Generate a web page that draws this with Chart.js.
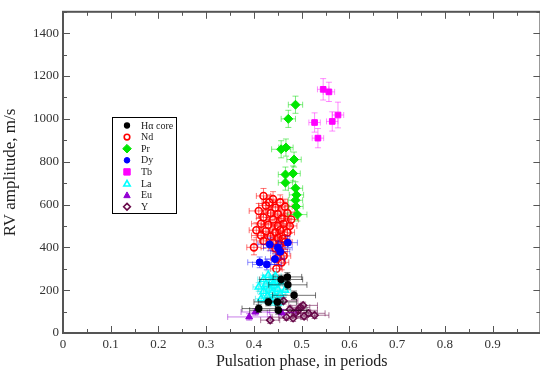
<!DOCTYPE html>
<html>
<head>
<meta charset="utf-8">
<script src="https://cdn.jsdelivr.net/npm/chart.js@4.4.1/dist/chart.umd.min.js"></script>
<style>
  html, body { margin: 0; padding: 0; background: #fff; overflow: hidden; }
  #wrap { width: 546px; height: 373px; }
</style>
</head>
<body>
<div id="wrap"><canvas id="chart-rv" width="546" height="373"></canvas></div>
<script>
'use strict';

// [phase, amplitude, phase error, amplitude error]
const haCore = [
    [0.457, 250, 0.045, 20], [0.471, 225, 0.040, 20], [0.484, 176, 0.045, 20],
    [0.449, 145, 0.040, 18], [0.430, 145, 0.030, 18], [0.410, 114, 0.035, 18],
    [0.451, 106, 0.060, 18], [0.470, 262, 0.030, 20]
];
const ndPoints = [
    [0.420, 640, 0.015, 35], [0.440, 625, 0.020, 35], [0.455, 610, 0.015, 35], [0.432, 610, 0.015, 35],
    [0.425, 595, 0.015, 35], [0.445, 585, 0.020, 35], [0.465, 590, 0.015, 35], [0.410, 570, 0.020, 35],
    [0.435, 560, 0.015, 35], [0.450, 555, 0.015, 35], [0.470, 560, 0.015, 35], [0.420, 540, 0.015, 35],
    [0.440, 530, 0.015, 35], [0.458, 535, 0.015, 35], [0.478, 530, 0.015, 35], [0.415, 510, 0.020, 35],
    [0.430, 505, 0.015, 35], [0.450, 500, 0.015, 35], [0.462, 510, 0.015, 35], [0.475, 500, 0.015, 35],
    [0.405, 480, 0.015, 35], [0.425, 475, 0.015, 35], [0.445, 470, 0.015, 35], [0.455, 480, 0.015, 35],
    [0.470, 470, 0.015, 35], [0.415, 455, 0.020, 35], [0.435, 450, 0.015, 35], [0.450, 445, 0.015, 35],
    [0.460, 440, 0.015, 35], [0.420, 430, 0.015, 35], [0.440, 420, 0.015, 35], [0.455, 415, 0.015, 35],
    [0.465, 425, 0.015, 35], [0.400, 400, 0.015, 35], [0.445, 395, 0.015, 35], [0.455, 380, 0.015, 35],
    [0.462, 360, 0.015, 35], [0.450, 350, 0.015, 35], [0.458, 330, 0.015, 35], [0.447, 300, 0.012, 30]
];
const prPoints = [
    [0.487, 1066, 0.015, 40], [0.472, 1000, 0.015, 40], [0.457, 858, 0.020, 40], [0.467, 866, 0.015, 40],
    [0.484, 810, 0.015, 35], [0.466, 740, 0.015, 35], [0.482, 745, 0.015, 35], [0.466, 702, 0.015, 35],
    [0.487, 676, 0.015, 30], [0.489, 645, 0.015, 30], [0.487, 620, 0.015, 30], [0.488, 591, 0.015, 30],
    [0.491, 553, 0.020, 30]
];
const dyPoints = [
    [0.433, 414, 0.025, 30], [0.450, 399, 0.030, 30], [0.471, 422, 0.020, 30], [0.412, 330, 0.025, 25],
    [0.427, 320, 0.030, 25], [0.444, 345, 0.020, 25], [0.455, 380, 0.020, 30]
];
const tbPoints = [
    [0.545, 1138, 0.012, 50], [0.557, 1126, 0.012, 45], [0.576, 1018, 0.012, 60],
    [0.564, 988, 0.012, 45], [0.527, 983, 0.012, 45], [0.534, 910, 0.012, 45]
];
const laPoints = [
    [0.430, 270, 0.012, 20], [0.445, 265, 0.012, 20], [0.420, 250, 0.012, 20], [0.438, 245, 0.012, 20],
    [0.455, 240, 0.012, 20], [0.425, 228, 0.012, 20], [0.442, 222, 0.012, 20], [0.410, 215, 0.012, 20],
    [0.432, 210, 0.012, 20], [0.450, 205, 0.012, 20], [0.465, 200, 0.012, 20], [0.420, 195, 0.012, 20],
    [0.438, 188, 0.012, 20], [0.455, 180, 0.012, 20], [0.428, 172, 0.012, 20], [0.445, 165, 0.012, 20],
    [0.415, 160, 0.012, 20], [0.435, 150, 0.012, 20], [0.450, 140, 0.012, 20], [0.440, 230, 0.012, 20]
];
const euPoints = [
    [0.390, 75, 0.045, 15], [0.403, 98, 0.030, 15], [0.458, 95, 0.030, 15]
];
const yPoints = [
    [0.434, 60, 0.020, 15], [0.462, 150, 0.030, 15], [0.468, 74, 0.030, 15], [0.482, 69, 0.030, 15],
    [0.493, 106, 0.040, 15], [0.503, 129, 0.030, 15], [0.514, 92, 0.035, 15], [0.527, 83, 0.030, 15],
    [0.497, 120, 0.020, 15], [0.488, 95, 0.030, 20], [0.505, 78, 0.025, 15], [0.475, 110, 0.030, 15]
];

const xTickValues = [0, 0.1, 0.2, 0.3, 0.4, 0.5, 0.6, 0.7, 0.8, 0.9];
const yTickValues = [0, 200, 400, 600, 800, 1000, 1200, 1400];

const serif = "'Liberation Serif', 'DejaVu Serif', serif";

function toData(rows) {
    return rows.map(r => ({ x: r[0], y: r[1], dx: r[2], dy: r[3] }));
}

function series(label, rows, style) {
    return Object.assign({
        label: label,
        data: toData(rows),
        showLine: false,
        borderWidth: 1.5,
        pointHoverRadius: 4
    }, style);
}

const datasets = [
    series('H\u03b1 core', haCore, { pointStyle: 'circle', pointRadius: 3, backgroundColor: '#000', borderColor: '#000', barColor: 'rgba(0,0,0,0.55)', order: 0 }),
    series('Nd', ndPoints, { pointStyle: 'circle', pointRadius: 3.5, backgroundColor: 'rgba(0,0,0,0)', borderColor: '#ff0000', borderWidth: 1.6, barColor: 'rgba(255,0,0,0.55)', order: 7 }),
    series('Pr', prPoints, { pointStyle: 'rectRot', pointRadius: 4.5, backgroundColor: '#00e600', borderColor: '#00e600', borderWidth: 1, barColor: 'rgba(0,220,0,0.5)', order: 6 }),
    series('Dy', dyPoints, { pointStyle: 'circle', pointRadius: 3.5, backgroundColor: '#0000ff', borderColor: '#0000ff', borderWidth: 1, barColor: 'rgba(0,0,255,0.45)', order: 5 }),
    series('Tb', tbPoints, { pointStyle: 'rect', pointRadius: 4, backgroundColor: '#ff00ff', borderColor: '#ff00ff', borderWidth: 1, barColor: 'rgba(255,0,255,0.45)', order: 4 }),
    series('La', laPoints, { pointStyle: 'triangle', pointRadius: 4, backgroundColor: 'rgba(0,0,0,0)', borderColor: '#00ffff', borderWidth: 1.6, barColor: 'rgba(0,230,230,0.5)', order: 3 }),
    series('Eu', euPoints, { pointStyle: 'triangle', pointRadius: 4, backgroundColor: '#9400d3', borderColor: '#9400d3', borderWidth: 1, barColor: 'rgba(148,0,211,0.5)', order: 1 }),
    series('Y', yPoints, { pointStyle: 'rectRot', pointRadius: 3.5, backgroundColor: 'rgba(0,0,0,0)', borderColor: '#670748', borderWidth: 1.6, barColor: 'rgba(103,7,72,0.55)', order: 2 })
];

// error bars for each set, drawn right before its symbols
const errorBars = {
    id: 'errorBars',
    beforeDatasetDraw(chart, args) {
        const ds = chart.data.datasets[args.index];
        const xs = chart.scales.x, ys = chart.scales.y;
        const ctx = chart.ctx;
        const cap = 3;
        ctx.save();
        ctx.strokeStyle = ds.barColor;
        ctx.lineWidth = 1;
        ds.data.forEach(p => {
            const px = xs.getPixelForValue(p.x), py = ys.getPixelForValue(p.y);
            const x0 = xs.getPixelForValue(p.x - p.dx), x1 = xs.getPixelForValue(p.x + p.dx);
            const y0 = ys.getPixelForValue(p.y - p.dy), y1 = ys.getPixelForValue(p.y + p.dy);
            ctx.beginPath();
            ctx.moveTo(x0, py); ctx.lineTo(x1, py);
            ctx.moveTo(x0, py - cap); ctx.lineTo(x0, py + cap);
            ctx.moveTo(x1, py - cap); ctx.lineTo(x1, py + cap);
            ctx.moveTo(px, y0); ctx.lineTo(px, y1);
            ctx.moveTo(px - cap, y0); ctx.lineTo(px + cap, y0);
            ctx.moveTo(px - cap, y1); ctx.lineTo(px + cap, y1);
            ctx.stroke();
        });
        ctx.restore();
    }
};

function legendSymbol(ctx, ds, x, y) {
    const r = ds.pointRadius * 0.8;
    ctx.fillStyle = ds.backgroundColor;
    ctx.strokeStyle = ds.borderColor;
    ctx.lineWidth = ds.borderWidth;
    ctx.beginPath();
    if (ds.pointStyle === 'circle') {
        ctx.arc(x, y, r, 0, Math.PI * 2);
    } else if (ds.pointStyle === 'rect') {
        ctx.rect(x - r, y - r, 2 * r, 2 * r);
    } else if (ds.pointStyle === 'rectRot') {
        ctx.moveTo(x, y - r * 1.2); ctx.lineTo(x + r * 1.2, y);
        ctx.lineTo(x, y + r * 1.2); ctx.lineTo(x - r * 1.2, y);
        ctx.closePath();
    } else {
        ctx.moveTo(x, y - r); ctx.lineTo(x + r, y + r * 0.8);
        ctx.lineTo(x - r, y + r * 0.8); ctx.closePath();
    }
    ctx.fill();
    ctx.stroke();
}

// frame with inward ticks on all four sides, plus the boxed legend
const frame = {
    id: 'frame',
    afterDraw(chart) {
        const { ctx, chartArea: a } = chart;
        const xs = chart.scales.x, ys = chart.scales.y;
        ctx.save();
        ctx.strokeStyle = '#555';
        ctx.lineWidth = 1;
        ctx.beginPath();
        for (let i = 0; i <= 20; i++) {
            const px = Math.round(xs.getPixelForValue(i * 0.05)) + 0.5;
            const len = i % 2 === 0 ? 7 : 4;
            ctx.moveTo(px, a.bottom); ctx.lineTo(px, a.bottom - len);
            ctx.moveTo(px, a.top); ctx.lineTo(px, a.top + len);
        }
        for (let i = 0; i <= 15; i++) {
            const py = Math.round(ys.getPixelForValue(i * 100)) + 0.5;
            const len = i % 2 === 0 ? 7 : 4;
            ctx.moveTo(a.left, py); ctx.lineTo(a.left + len, py);
            ctx.moveTo(a.right, py); ctx.lineTo(a.right - len, py);
        }
        ctx.stroke();
        ctx.lineWidth = 2;
        ctx.strokeRect(a.left, a.top, a.right - a.left, a.bottom - a.top);
        ctx.restore();

        const bx = 112, by = 117, bw = 64, bh = 96, step = 11.6;
        ctx.save();
        ctx.strokeStyle = '#000';
        ctx.lineWidth = 1;
        ctx.strokeRect(bx + 0.5, by + 0.5, bw, bh);
        ctx.font = '10px ' + serif;
        ctx.textBaseline = 'middle';
        chart.data.datasets.forEach((ds, i) => {
            const cy = by + 8.5 + i * step;
            legendSymbol(ctx, ds, bx + 15, cy);
            ctx.fillStyle = '#222';
            ctx.fillText(ds.label, bx + 29, cy + 0.5);
        });
        ctx.restore();
    }
};

new Chart(document.getElementById('chart-rv'), {
    type: 'scatter',
    data: { datasets: datasets },
    plugins: [errorBars, frame],
    options: {
        responsive: false,
        animation: false,
        layout: { padding: { top: 8, right: 2, left: 0, bottom: 0 } },
        plugins: { legend: { display: false }, tooltip: { enabled: false } },
        scales: {
            x: {
                type: 'linear',
                min: 0,
                max: 1,
                afterFit: (s) => { s.height = 40; },
                afterBuildTicks: (s) => { s.ticks = xTickValues.map(v => ({ value: v })); },
                grid: { display: false, drawTicks: false },
                border: { display: false },
                ticks: {
                    padding: 4,
                    color: '#333',
                    font: { family: serif, size: 13 },
                    maxRotation: 0,
                    callback: (v) => String(v)
                },
                title: {
                    display: true,
                    text: 'Pulsation phase, in periods',
                    color: '#222',
                    font: { family: serif, size: 16 },
                    padding: { top: 0, bottom: 2 }
                }
            },
            y: {
                type: 'linear',
                min: 0,
                max: 1500,
                afterFit: (s) => { s.width = 63; },
                afterBuildTicks: (s) => { s.ticks = yTickValues.map(v => ({ value: v })); },
                grid: { display: false, drawTicks: false },
                border: { display: false },
                ticks: {
                    padding: 4,
                    color: '#333',
                    font: { family: serif, size: 13 },
                    callback: (v) => String(v)
                },
                title: {
                    display: true,
                    text: 'RV amplitude, m/s',
                    color: '#222',
                    font: { family: serif, size: 17 },
                    padding: { top: 0, bottom: 0 }
                }
            }
        }
    }
});
</script>
</body>
</html>
